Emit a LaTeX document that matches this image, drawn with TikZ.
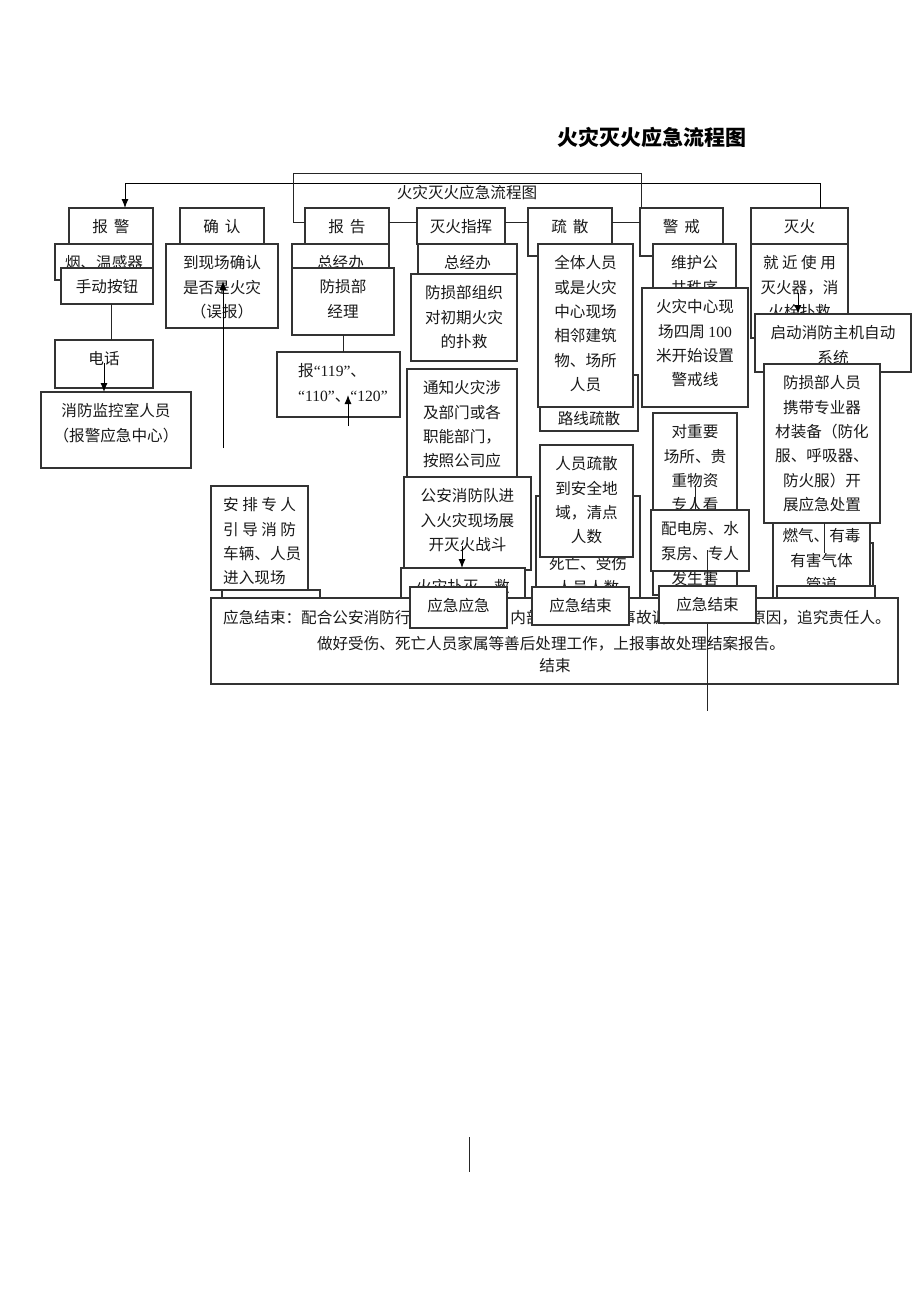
\documentclass[tikz,border=0pt]{standalone}
\usepackage{fontspec}
\usetikzlibrary{arrows.meta,calc}
\newfontfamily\cjk{Noto Sans CJK SC}
\newfontfamily\lat{Liberation Serif}
\newcommand\bx[7][]{%
  \node[box, minimum width=#5pt, minimum height=#6pt, anchor=north west] (#2) at (#3,#4) {};
  \node[txt, anchor=north, #1] (#2-t) at ([yshift=-10.4pt]#2.north) {\rule{0pt}{14pt}#7};
}
\begin{document}
\begin{tikzpicture}[x=1pt,y=-1pt,
  box/.style={draw=black!80, line width=1.1pt, fill=white, inner sep=0pt, outer sep=0pt},
  txt/.style={font=\cjk\fontsize{15.6}{24.4}\selectfont, align=center, inner sep=0pt, text=black!90},
  arr/.style={-{Latex[length=9pt,width=7pt]}, line width=1pt, draw=black},
  ln/.style={line width=1pt, draw=black!85}]
\useasboundingbox (0,0) rectangle (920,1302);

% title
\node[font=\cjk\bfseries\fontsize{21}{24}\selectfont, inner sep=0pt] (title) at (652,137) {火灾灭火应急流程图};
\node[txt] (subtitle) at (467,193) {火灾灭火应急流程图};

% top row
\bx{baojing}{69}{208}{84}{36}{报\hspace{6pt}警}
\bx{queren}{180}{208}{84}{36}{确\hspace{6pt}认}
\bx{baogao}{305}{208}{84}{36}{报\hspace{6pt}告}
\bx{zhihui}{417}{208}{88}{36}{灭火指挥}
\bx{shusan}{528}{208}{84}{48}{疏\hspace{6pt}散}
\bx{jingjie}{640}{208}{83}{48}{警\hspace{6pt}戒}
\bx{miehuo}{751}{208}{97}{36}{灭火}

% top connectors
\draw[arr] ([xshift=20.5pt]miehuo.north) -- ++(0,-25) -| ([xshift=14pt]baojing.north);
\draw[ln] ([yshift=-14pt]baogao.north west) -- ++(-12,0) -- ++(0,-49) -| ([xshift=1pt]jingjie.north west);
\draw[ln] ([yshift=-14pt]baogao.north east) -- ([yshift=-14pt]zhihui.north west);
\draw[ln] ([yshift=-14pt]zhihui.north east) -- ([yshift=-14pt]shusan.north west);
\draw[ln] ([yshift=-14pt]shusan.north east) -- ([yshift=-14pt]jingjie.north west);

% column 1
\bx{yanwen}{55}{244}{98}{36}{烟、温感器}
\bx{shoudong}{61}{268}{92}{36}{手动按钮}
\bx{dianhua}{55}{340}{98}{48}{电话}
\bx{jiankong}{41}{392}{150}{76}{消防监控室人员\\（报警应急中心）}
\draw[ln] ([xshift=4pt]shoudong.south) -- ([xshift=7pt]dianhua.north);
\draw[arr] ([yshift=-23pt]dianhua.north) -- (dianhua.north |- jiankong.north);

% column 2
\bx{xianchang}{166}{244}{112}{84}{到现场确认\\是否是火灾\\（误报）}
\coordinate (a1) at (223,448);
\coordinate (a1t) at (223,281);
\draw[arr] (a1) -- (a1t);

% column 3
\bx{zjb1}{292}{244}{97}{40}{总经办}
\bx{jingli}{292}{268}{102}{67}{防损部\\经理}
\node[box, minimum width=123pt, minimum height=65pt, anchor=north west] (bao119) at (277,352) {};
\node[txt, align=left, anchor=north west] (bao119-t) at (298,362.4) {\rule{0pt}{14pt}报{\lat “119”}、\\{\lat “110”}、{\lat “120”}};
\draw[ln] (jingli.south) -- (jingli.south |- bao119.north);
\coordinate (a2) at (348,426);
\coordinate (a2t) at (348,395);
\draw[arr] (a2) -- (a2t);

% column 4
\bx{zjb2}{418}{244}{99}{40}{总经办}
\bx{zuzhi}{411}{274}{106}{87}{防损部组织\\对初期火灾\\的扑救}
\bx{tongzhi}{407}{369}{110}{115}{通知火灾涉\\及部门或各\\职能部门，\\按照公司应}
\bx{gongan}{404}{477}{127}{93}{公安消防队进\\入火灾现场展\\开灭火战斗}
\bx{pumie}{401}{568}{124}{40}{火灾扑灭，救}
\coordinate (a3) at (462,546);
\draw[arr] (a3) -- (a3 |- pumie.north);

% anpai
\node[box, minimum width=97pt, minimum height=104pt, anchor=north west] (anpai) at (211,486) {};
\node[txt, align=left, anchor=north west] (anpai-t) at (223,496.4) {\rule{0pt}{14pt}安 排 专 人\\引 导 消 防\\车辆、人员\\进入现场};
\node[box, minimum width=98pt, minimum height=20pt, anchor=north west] (anpai2) at (222,590) {};

% column 5
\bx{luxian}{540}{375}{98}{56}{\mbox{}\\路线疏散}
\bx{quanti}{538}{244}{95}{163}{全体人员\\或是火灾\\中心现场\\相邻建筑\\物、场所\\人员}
\bx{siwang}{536}{496}{104}{110}{\mbox{}\\\mbox{}\\死亡、受伤\\人员人数}
\bx{renyuan}{540}{445}{93}{112}{人员疏散\\到安全地\\域，清点\\人数}

% column 6
\bx{weihu}{653}{244}{83}{56}{维护公\\共秩序}
\bx{zhongxin}{642}{288}{106}{119}{火灾中心现\\场四周 {\lat 100}\\米开始设置\\警戒线}
\bx{zhongyao}{653}{413}{84}{182}{对重要\\场所、贵\\重物资\\专人看\\\mbox{}\\\mbox{}\\发生害}
\coordinate (e2) at (695,484);
\draw[ln] (e2) -- (695,510);
\bx{peidian}{651}{510}{98}{61}{配电房、水\\泵房、专人}

% column 7
\bx{jiujin}{751}{244}{97}{94}{就 近 使 用\\灭火器，消\\火栓扑救}
\bx{qidong}{755}{314}{156}{58}{启动消防主机自动\\系统}
\coordinate (a4) at (798,293);
\draw[arr] (a4) -- (a4 |- qidong.north);
\bx{ranqib}{776}{543}{97}{55}{}
\bx{ranqi}{773}{517}{97}{81}{燃气、有毒\\有害气体\\管道}
\bx{fsry}{764}{364}{116}{159}{防损部人员\\携带专业器\\材装备（防化\\服、呼吸器、\\防火服）开\\展应急处置}
\coordinate (e1) at (824,553);
\draw[ln] (fsry.south -| e1) -- (e1);
\bx{jieshuc}{777}{586}{98}{30}{}

% big end box
\node[box, minimum width=687pt, minimum height=86pt, anchor=north west] (end) at (211,598) {};
\node[txt, anchor=base west] (end-1) at (223,623) {应急结束：配合公安消防行\hspace{100pt}内部\hspace{78.8pt}事故调\hspace{83.2pt}原因，追究责任人。};
\node[txt, anchor=base] (end-2) at (551,649) {做好受伤、死亡人员家属等善后处理工作，上报事故处理结案报告。};
\node[txt, anchor=base] (end-3) at (555,671) {结束};

\coordinate (e3) at (707,550);
\coordinate (e4) at (707,711);
\draw[ln] (e3) -- (e4);

\bx{yjyj}{410}{587}{97}{41}{应急应急}
\bx{jieshul}{532}{587}{97}{38}{应急结束}
\bx{jieshum}{659}{586}{97}{37}{应急结束}

% bottom stray line
\coordinate (e5) at (469,1137);
\coordinate (e6) at (469,1172);
\draw[ln] (e5) -- (e6);
\end{tikzpicture}
\end{document}
